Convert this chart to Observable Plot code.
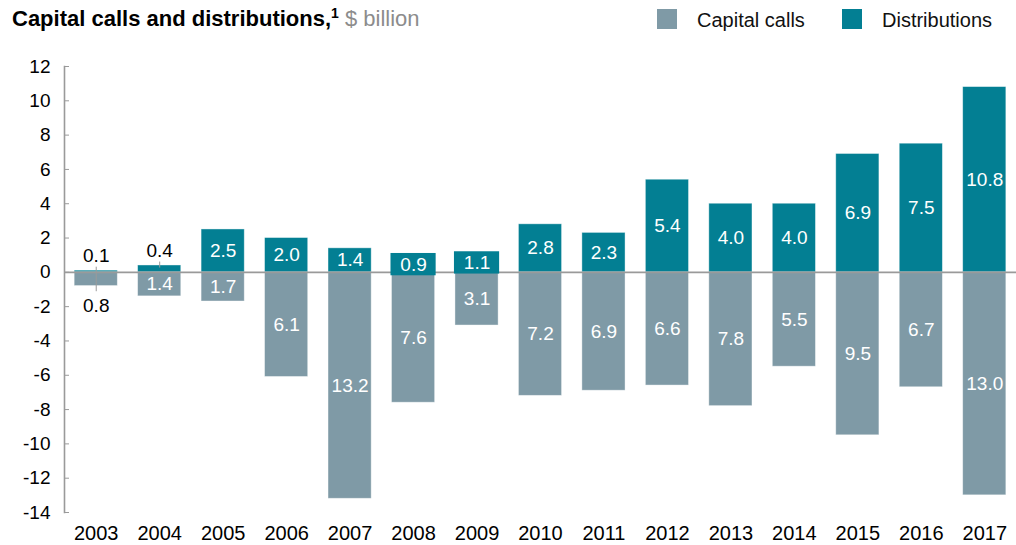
<!DOCTYPE html>
<html><head><meta charset="utf-8">
<script src="https://cdn.jsdelivr.net/npm/d3@7"></script>
<script src="https://cdn.jsdelivr.net/npm/@observablehq/plot@0.6"></script>
<style>
body{margin:0;background:#fff;font-family:"Liberation Sans",Arial,sans-serif;}
#wrap{width:1016px;height:545px;position:relative;overflow:hidden}
#head{position:relative;height:40px;width:1016px}
#title{position:absolute;left:12px;top:6px;font-size:22px;line-height:26px;font-weight:bold;color:#000;white-space:nowrap}
#title sup{font-size:14px;line-height:0;vertical-align:8px}
#title .unit{font-weight:normal;color:#8c8c8c}
.sw{position:absolute;top:9px;width:20px;height:20px}
.lt{position:absolute;top:8px;font-size:20px;line-height:24px;color:#111;white-space:nowrap}
</style>
</head><body>
<div id="wrap">
<div id="head">
  <div id="title">Capital calls and distributions,<sup>1</sup> <span class="unit">$ billion</span></div>
  <div class="sw" id="sw1" style="left:657px"></div><div class="lt" style="left:697px">Capital calls</div>
  <div class="sw" id="sw2" style="left:842px"></div><div class="lt" style="left:882px">Distributions</div>
</div>
<div id="chart"></div>
</div>
<script>
const years = ["2003","2004","2005","2006","2007","2008","2009","2010","2011","2012","2013","2014","2015","2016","2017"];
const capitalCalls = [0.8,1.4,1.7,6.1,13.2,7.6,3.1,7.2,6.9,6.6,7.8,5.5,9.5,6.7,13.0];
const distributions = [0.1,0.4,2.5,2.0,1.4,0.9,1.1,2.8,2.3,5.4,4.0,4.0,6.9,7.5,10.8];
const yTicks = [-14,-12,-10,-8,-6,-4,-2,0,2,4,6,8,10,12];

const callColor = "#7f9aa6";
const distColor = "#037f93";
document.getElementById("sw1").style.background = callColor;
document.getElementById("sw2").style.background = distColor;

const table = years.map((year, i) => ({
  year, call: capitalCalls[i], dist: distributions[i],
  callOut: capitalCalls[i] < 1.0, distOut: distributions[i] < 0.5
}));
const boxed = table.filter(d => !d.distOut && d.dist < 1.2);
const leaders = table.filter(d => d.distOut || d.callOut).map(d => ({
  year: d.year,
  top: d.dist + 0.2,
  bottom: d.callOut ? -d.call - 0.33 : d.dist - 0.15
}));

const chart = Plot.plot({
  width: 1016, height: 505,
  marginTop: 26, marginBottom: 33, marginLeft: 64, marginRight: 0,
  style: {fontFamily: "'Liberation Sans', Arial, sans-serif", color: "#000", background: "#fff"},
  x: {type: "band", domain: years, paddingInner: 0.32, paddingOuter: 0.16, align: 0.5, round: false, label: null},
  y: {domain: [-14, 12], label: null},
  marks: [
    Plot.barY(table, {x: "year", y1: 0, y2: d => -d.call, fill: callColor, stroke: "#fff", strokeOpacity: 0.5, strokeWidth: 0.8}),
    Plot.barY(table, {x: "year", y1: 0, y2: "dist", fill: distColor, stroke: "#fff", strokeOpacity: 0.5, strokeWidth: 0.8}),
    Plot.ruleY([0], {stroke: "#9a9a9a", strokeWidth: 1.6}),
    Plot.frame({anchor: "left", stroke: "#9a9a9a", strokeWidth: 1.6}),
    Plot.axisY(yTicks, {tickSize: -5, tickPadding: 19, stroke: "#9a9a9a", fontSize: 19, label: null, tickFormat: d => String(d)}),
    Plot.axisX({tickSize: 0, tickPadding: 13, fontSize: 20, label: null}),
    Plot.barY(boxed, {x: "year", y1: d => d.dist / 2 - 0.65, y2: d => d.dist / 2 + 0.65, insetLeft: -1, insetRight: -1, fill: distColor}),
    Plot.ruleX(leaders, {x: "year", y1: "top", y2: "bottom", stroke: "#9a9a9a", strokeWidth: 1}),
    Plot.text(table.filter(d => !d.distOut), {x: "year", y: d => d.dist / 2, text: d => d.dist.toFixed(1), fill: "#fff", fontSize: 19}),
    Plot.text(table.filter(d => !d.callOut), {x: "year", y: d => -d.call / 2, text: d => d.call.toFixed(1), fill: "#fff", fontSize: 19}),
    Plot.text(table.filter(d => d.distOut), {x: "year", y: "dist", dy: -15, text: d => d.dist.toFixed(1), fill: "#000", fontSize: 19}),
    Plot.text(table.filter(d => d.callOut), {x: "year", y: d => -d.call, dy: 20, text: d => d.call.toFixed(1), fill: "#000", fontSize: 19})
  ]
});
document.getElementById("chart").appendChild(chart);
</script>
</body></html>
